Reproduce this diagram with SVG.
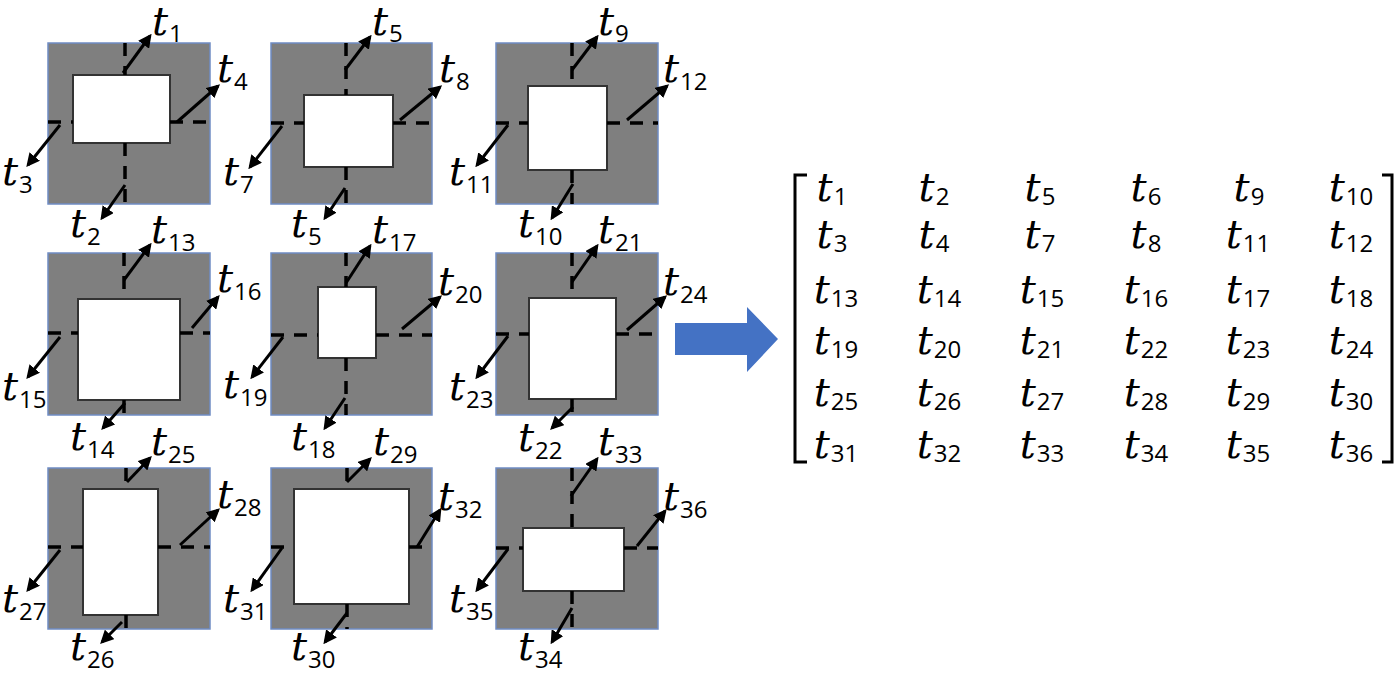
<svg xmlns="http://www.w3.org/2000/svg" width="1400" height="678" viewBox="0 0 1400 678">
<style>
.o{fill:#7f7f7f;stroke:#6f8cc4;stroke-width:1.5}
.i{fill:#fff;stroke:#333;stroke-width:2}
.d{stroke:#000;stroke-width:3.5;stroke-dasharray:13 10;fill:none}
.a{stroke:#000;stroke-width:3;fill:none;marker-end:url(#ah)}
.l{font-family:"DejaVu Serif","Liberation Serif",serif;font-style:italic;font-size:40px;fill:#000}
.s{font-family:"Open Sans","Noto Sans",sans-serif;font-style:normal;font-size:24px}
.br{stroke:#000;stroke-width:3;fill:none}
</style>
<defs>
<marker id="ah" viewBox="0 0 10 10" refX="8" refY="5" markerWidth="4.5" markerHeight="4.5" orient="auto" markerUnits="strokeWidth"><path d="M0,0 L10,5 L0,10 z" fill="#000"/></marker>
</defs>
<rect width="1400" height="678" fill="#fff"/>

<g id="tile1">
<rect class="o" x="48" y="43" width="162" height="161"/>
<rect class="i" x="73" y="75" width="97" height="68"/>
<path class="d" d="M125,43V75M125,143V204M48,122H73M170,122H210"/>
<text class="l" x="152" y="35">t<tspan class="s" dy="7" dx="1">1</tspan></text>
<text class="l" x="217" y="82">t<tspan class="s" dy="8" dx="1">4</tspan></text>
<text class="l" x="2" y="185">t<tspan class="s" dy="8" dx="1">3</tspan></text>
<text class="l" x="70" y="237">t<tspan class="s" dy="8" dx="1">2</tspan></text>
</g>
<g id="tile2">
<rect class="o" x="271" y="43" width="161" height="161"/>
<rect class="i" x="304" y="95" width="89" height="72"/>
<path class="d" d="M346,43V95M346,167V204M271,123H304M393,123H432"/>
<text class="l" x="372" y="35">t<tspan class="s" dy="7" dx="1">5</tspan></text>
<text class="l" x="439" y="82">t<tspan class="s" dy="8" dx="1">8</tspan></text>
<text class="l" x="223" y="185">t<tspan class="s" dy="8" dx="1">7</tspan></text>
<text class="l" x="291" y="237">t<tspan class="s" dy="8" dx="1">5</tspan></text>
</g>
<g id="tile3">
<rect class="o" x="496" y="43" width="162" height="161"/>
<rect class="i" x="528" y="86" width="79" height="84"/>
<path class="d" d="M572,43V86M572,170V204M496,123H528M607,123H658"/>
<text class="l" x="598" y="35">t<tspan class="s" dy="7" dx="1">9</tspan></text>
<text class="l" x="663" y="82">t<tspan class="s" dy="8" dx="1">12</tspan></text>
<text class="l" x="449" y="185">t<tspan class="s" dy="8" dx="1">11</tspan></text>
<text class="l" x="518" y="237">t<tspan class="s" dy="8" dx="1">10</tspan></text>
</g>
<g id="tile4">
<rect class="o" x="48" y="253" width="162" height="162"/>
<rect class="i" x="78" y="299" width="102" height="101"/>
<path class="d" d="M124,253V299M124,400V415M48,333H78M180,333H210"/>
<text class="l" x="151" y="243">t<tspan class="s" dy="8" dx="1">13</tspan></text>
<text class="l" x="217" y="292">t<tspan class="s" dy="8" dx="1">16</tspan></text>
<text class="l" x="2" y="400">t<tspan class="s" dy="8" dx="1">15</tspan></text>
<text class="l" x="70" y="450">t<tspan class="s" dy="8" dx="1">14</tspan></text>
</g>
<g id="tile5">
<rect class="o" x="271" y="253" width="161" height="162"/>
<rect class="i" x="318" y="287" width="58" height="71"/>
<path class="d" d="M346,253V287M346,358V415M271,335H318M376,335H432"/>
<text class="l" x="372" y="243">t<tspan class="s" dy="8" dx="1">17</tspan></text>
<text class="l" x="438" y="295">t<tspan class="s" dy="8" dx="1">20</tspan></text>
<text class="l" x="223" y="398">t<tspan class="s" dy="8" dx="1">19</tspan></text>
<text class="l" x="291" y="450">t<tspan class="s" dy="8" dx="1">18</tspan></text>
</g>
<g id="tile6">
<rect class="o" x="496" y="253" width="162" height="162"/>
<rect class="i" x="529" y="298" width="87" height="101"/>
<path class="d" d="M572,253V298M572,399V415M496,334H529M616,334H658"/>
<text class="l" x="598" y="243">t<tspan class="s" dy="8" dx="1">21</tspan></text>
<text class="l" x="663" y="295">t<tspan class="s" dy="8" dx="1">24</tspan></text>
<text class="l" x="449" y="400">t<tspan class="s" dy="8" dx="1">23</tspan></text>
<text class="l" x="518" y="451">t<tspan class="s" dy="8" dx="1">22</tspan></text>
</g>
<g id="tile7">
<rect class="o" x="48" y="468" width="162" height="161"/>
<rect class="i" x="83" y="489" width="75" height="126"/>
<path class="d" d="M126,468V489M126,615V629M48,547H83M158,547H210"/>
<text class="l" x="151" y="455">t<tspan class="s" dy="8" dx="1">25</tspan></text>
<text class="l" x="217" y="508">t<tspan class="s" dy="8" dx="1">28</tspan></text>
<text class="l" x="2" y="612">t<tspan class="s" dy="8" dx="1">27</tspan></text>
<text class="l" x="70" y="660">t<tspan class="s" dy="8" dx="1">26</tspan></text>
</g>
<g id="tile8">
<rect class="o" x="271" y="468" width="161" height="161"/>
<rect class="i" x="294" y="489" width="115" height="115"/>
<path class="d" d="M347,468V489M347,604V629M271,547H294M409,547H432"/>
<text class="l" x="373" y="455">t<tspan class="s" dy="8" dx="1">29</tspan></text>
<text class="l" x="438" y="510">t<tspan class="s" dy="8" dx="1">32</tspan></text>
<text class="l" x="223" y="612">t<tspan class="s" dy="8" dx="1">31</tspan></text>
<text class="l" x="291" y="660">t<tspan class="s" dy="8" dx="1">30</tspan></text>
</g>
<g id="tile9">
<rect class="o" x="496" y="468" width="162" height="161"/>
<rect class="i" x="523" y="528" width="101" height="63"/>
<path class="d" d="M572,468V528M572,591V629M496,548H523M624,548H658"/>
<text class="l" x="598" y="455">t<tspan class="s" dy="8" dx="1">33</tspan></text>
<text class="l" x="663" y="510">t<tspan class="s" dy="8" dx="1">36</tspan></text>
<text class="l" x="449" y="612">t<tspan class="s" dy="8" dx="1">35</tspan></text>
<text class="l" x="518" y="660">t<tspan class="s" dy="8" dx="1">34</tspan></text>
</g>

<g id="connectors">
<path class="a" d="M123,73L150,36"/>
<path class="a" d="M177,122L218,86"/>
<path class="a" d="M60,125L28,165"/>
<path class="a" d="M125,185L102,218"/>
<path class="a" d="M345,70L370,37"/>
<path class="a" d="M400,120L440,87"/>
<path class="a" d="M282,126L250,167"/>
<path class="a" d="M345,188L325,218"/>
<path class="a" d="M572,70L597,37"/>
<path class="a" d="M627,120L667,86"/>
<path class="a" d="M508,125L477,165"/>
<path class="a" d="M573,184L552,218"/>
<path class="a" d="M124,280L150,245"/>
<path class="a" d="M192,328L218,297"/>
<path class="a" d="M60,337L28,377"/>
<path class="a" d="M125,403L103,428"/>
<path class="a" d="M346,283L370,246"/>
<path class="a" d="M402,329L440,297"/>
<path class="a" d="M283,337L252,377"/>
<path class="a" d="M345,398L325,428"/>
<path class="a" d="M572,282L597,246"/>
<path class="a" d="M627,330L665,297"/>
<path class="a" d="M508,336L477,377"/>
<path class="a" d="M573,407L552,428"/>
<path class="a" d="M127,482L150,458"/>
<path class="a" d="M180,545L218,510"/>
<path class="a" d="M60,550L28,590"/>
<path class="a" d="M122,622L102,642"/>
<path class="a" d="M347,482L370,459"/>
<path class="a" d="M417,547L440,510"/>
<path class="a" d="M282,548L252,590"/>
<path class="a" d="M347,613L325,642"/>
<path class="a" d="M571,496L597,459"/>
<path class="a" d="M637,546L665,511"/>
<path class="a" d="M508,549L477,590"/>
<path class="a" d="M572,608L552,642"/>
</g>

<g id="big-arrow">
<polygon points="675,323 747,323 747,307 778,339 747,372 747,355 675,355" fill="#4472c4"/>
</g>

<g id="matrix">
<path class="br" d="M807,175H795V462H807"/>
<path class="br" d="M1382,175H1392V462H1382"/>
<g class="l" text-anchor="middle">
<text x="832" y="201">t<tspan class="s" dy="4" dx="1">1</tspan></text>
<text x="934" y="201">t<tspan class="s" dy="4" dx="1">2</tspan></text>
<text x="1040" y="201">t<tspan class="s" dy="4" dx="1">5</tspan></text>
<text x="1146" y="201">t<tspan class="s" dy="4" dx="1">6</tspan></text>
<text x="1249" y="201">t<tspan class="s" dy="4" dx="1">9</tspan></text>
<text x="1351" y="201">t<tspan class="s" dy="4" dx="1">10</tspan></text>
<text x="832" y="248">t<tspan class="s" dy="4" dx="1">3</tspan></text>
<text x="934" y="248">t<tspan class="s" dy="4" dx="1">4</tspan></text>
<text x="1040" y="248">t<tspan class="s" dy="4" dx="1">7</tspan></text>
<text x="1146" y="248">t<tspan class="s" dy="4" dx="1">8</tspan></text>
<text x="1248" y="248">t<tspan class="s" dy="4" dx="1">11</tspan></text>
<text x="1351" y="248">t<tspan class="s" dy="4" dx="1">12</tspan></text>
<text x="836" y="303">t<tspan class="s" dy="4" dx="1">13</tspan></text>
<text x="939" y="303">t<tspan class="s" dy="4" dx="1">14</tspan></text>
<text x="1042" y="303">t<tspan class="s" dy="4" dx="1">15</tspan></text>
<text x="1146" y="303">t<tspan class="s" dy="4" dx="1">16</tspan></text>
<text x="1248" y="303">t<tspan class="s" dy="4" dx="1">17</tspan></text>
<text x="1351" y="303">t<tspan class="s" dy="4" dx="1">18</tspan></text>
<text x="836" y="354">t<tspan class="s" dy="4" dx="1">19</tspan></text>
<text x="939" y="354">t<tspan class="s" dy="4" dx="1">20</tspan></text>
<text x="1042" y="354">t<tspan class="s" dy="4" dx="1">21</tspan></text>
<text x="1146" y="354">t<tspan class="s" dy="4" dx="1">22</tspan></text>
<text x="1248" y="354">t<tspan class="s" dy="4" dx="1">23</tspan></text>
<text x="1351" y="354">t<tspan class="s" dy="4" dx="1">24</tspan></text>
<text x="836" y="406">t<tspan class="s" dy="4" dx="1">25</tspan></text>
<text x="939" y="406">t<tspan class="s" dy="4" dx="1">26</tspan></text>
<text x="1042" y="406">t<tspan class="s" dy="4" dx="1">27</tspan></text>
<text x="1146" y="406">t<tspan class="s" dy="4" dx="1">28</tspan></text>
<text x="1248" y="406">t<tspan class="s" dy="4" dx="1">29</tspan></text>
<text x="1351" y="406">t<tspan class="s" dy="4" dx="1">30</tspan></text>
<text x="836" y="458">t<tspan class="s" dy="4" dx="1">31</tspan></text>
<text x="939" y="458">t<tspan class="s" dy="4" dx="1">32</tspan></text>
<text x="1042" y="458">t<tspan class="s" dy="4" dx="1">33</tspan></text>
<text x="1146" y="458">t<tspan class="s" dy="4" dx="1">34</tspan></text>
<text x="1248" y="458">t<tspan class="s" dy="4" dx="1">35</tspan></text>
<text x="1351" y="458">t<tspan class="s" dy="4" dx="1">36</tspan></text>
</g>
</g>
</svg>
